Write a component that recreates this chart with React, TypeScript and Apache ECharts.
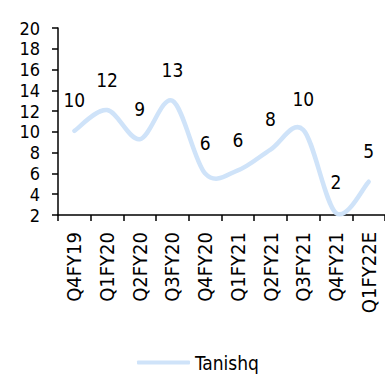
import React, { useEffect, useRef } from "react";
import * as echarts from "echarts";

const categories = ["Q4FY19", "Q1FY20", "Q2FY20", "Q3FY20", "Q4FY20", "Q1FY21", "Q2FY21", "Q3FY21", "Q4FY21", "Q1FY22E"];
const tanishq = [10.1, 12.1, 9.3, 13.0, 6.0, 6.3, 8.3, 10.2, 2.2, 5.2];
const seriesName = "Tanishq";

const FONT = "'Liberation Sans Narrow', 'DejaVu Sans Condensed', 'Arial Narrow', sans-serif";
const LINE_COLOR = "#cfe3f9";

function smoothPath(pts: number[][]): string {
  // Catmull-Rom style smoothing (like spreadsheet smoothed lines)
  let d = `M${pts[0][0]},${pts[0][1]}`;
  for (let i = 0; i < pts.length - 1; i++) {
    const p0 = pts[i - 1] || pts[i];
    const p1 = pts[i];
    const p2 = pts[i + 1];
    const p3 = pts[i + 2] || pts[i + 1];
    const c1x = p1[0] + (p2[0] - p0[0]) / 6;
    const c1y = p1[1] + (p2[1] - p0[1]) / 6;
    const c2x = p2[0] - (p3[0] - p1[0]) / 6;
    const c2y = p2[1] - (p3[1] - p1[1]) / 6;
    d += ` C${c1x},${c1y} ${c2x},${c2y} ${p2[0]},${p2[1]}`;
  }
  return d;
}

export default function App() {
  const ref = useRef<HTMLDivElement>(null);
  useEffect(() => {
    if (!ref.current) return;
    const chart = echarts.init(ref.current, undefined, { renderer: "svg" });
    chart.setOption({
      animation: false,
      backgroundColor: "#ffffff",
      textStyle: { fontFamily: FONT },
      grid: { left: 58, top: 28, bottom: 164, right: -7.4, containLabel: false },
      legend: {
        bottom: 2,
        left: 132,
        itemWidth: 53,
        itemHeight: 4,
        itemGap: 6,
        textStyle: { fontFamily: FONT, fontSize: 19, color: "#000" },
        data: [{ name: seriesName, icon: "roundRect", itemStyle: { color: LINE_COLOR } }],
      },
      xAxis: {
        type: "category",
        data: categories,
        boundaryGap: true,
        axisLine: { lineStyle: { color: "#000", width: 1.5 } },
        axisTick: { show: true, alignWithLabel: false, length: 6, lineStyle: { color: "#000", width: 1.5 } },
        axisLabel: { rotate: 90, interval: 0, margin: 17, color: "#000", fontSize: 20, fontFamily: FONT },
        splitLine: { show: false },
      },
      yAxis: {
        type: "value",
        min: 2,
        max: 20,
        interval: 2,
        axisLine: { show: true, lineStyle: { color: "#000", width: 1.5 } },
        axisTick: { show: true, length: 6, lineStyle: { color: "#000", width: 1.5 } },
        axisLabel: { margin: 18, color: "#000", fontSize: 18, fontFamily: FONT },
        splitLine: { show: false },
      },
      series: [
        {
          name: seriesName,
          type: "custom",
          color: LINE_COLOR,
          clip: false,
          z: 2,
          data: tanishq.map((v, i) => [i, v]),
          encode: { x: 0, y: 1 },
          renderItem: (params: any, api: any) => {
            if (params.dataIndex !== 0) return null;
            const pts = tanishq.map((v, i) => api.coord([i, v]));
            return {
              type: "path",
              shape: { pathData: smoothPath(pts) },
              style: { fill: "none", stroke: LINE_COLOR, lineWidth: 4.5, lineCap: "round", lineJoin: "round" },
            };
          },
        },
        {
          name: "labels",
          type: "line",
          data: tanishq,
          symbol: "circle",
          symbolSize: 0.1,
          showSymbol: true,
          itemStyle: { color: "rgba(0,0,0,0)" },
          lineStyle: { width: 0, opacity: 0 },
          z: 3,
          label: {
            show: true,
            position: "top",
            distance: 21,
            color: "#000",
            fontSize: 19,
            fontFamily: FONT,
            formatter: (p: any) => String(Math.round(p.value)),
          },
        },
      ],
    });
    return () => chart.dispose();
  }, []);
  return <div ref={ref} style={{ position: "fixed", left: 0, top: 0, width: 385, height: 379 }} />;
}
